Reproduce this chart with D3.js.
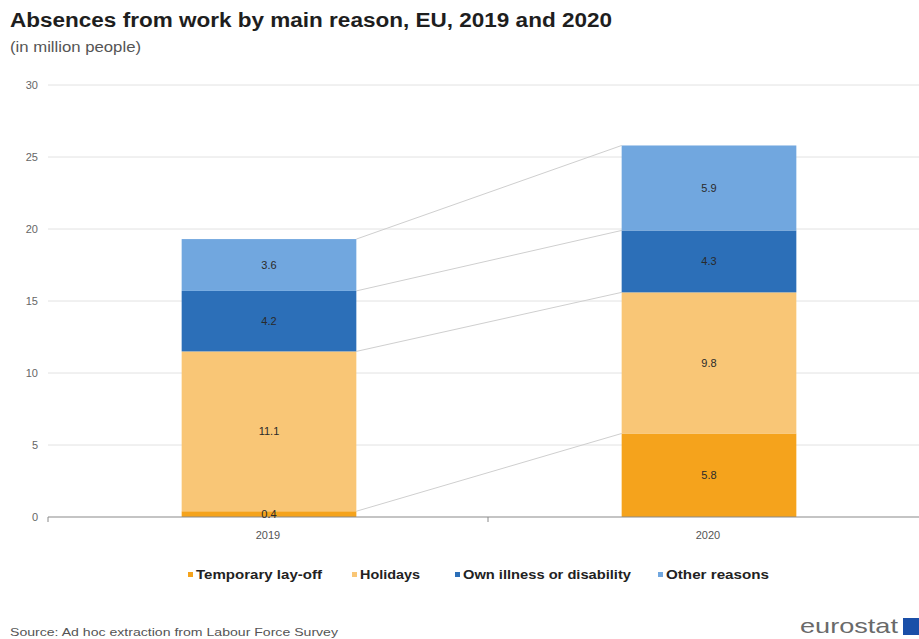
<!DOCTYPE html>
<html>
<head>
<meta charset="utf-8">
<script src="https://cdn.jsdelivr.net/npm/d3@7"></script>
<style>
  html, body { margin: 0; padding: 0; background: #fff; }
  svg { display: block; font-family: "Liberation Sans", Arial, sans-serif; }
</style>
</head>
<body>
<svg id="chart" width="919" height="639"></svg>
<script>
// Absences from work by main reason (million people)
const years = ["2019", "2020"];
const reasons = ["Temporary lay-off", "Holidays", "Own illness or disability", "Other reasons"];
const layoff = [0.4, 5.8];
const holidays = [11.1, 9.8];
const illness = [4.2, 4.3];
const other = [3.6, 5.9];
const yTicks = [0, 5, 10, 15, 20, 25, 30];
const colors = ["#f5a31c", "#f9c676", "#2c6fb8", "#71a7df"];

const seriesValues = [layoff, holidays, illness, other];
const rows = years.map((yr, i) => {
  const r = { year: yr };
  reasons.forEach((k, j) => { r[k] = seriesValues[j][i]; });
  return r;
});
const stacked = d3.stack().keys(reasons)(rows);

const svg = d3.select("#chart");
const W = 919, H = 639;
const plotLeft = 48, plotRight = 928, plotTop = 85, plotBottom = 517;

const x = d3.scaleBand().domain(years).range([plotLeft, plotRight]).paddingInner(0).paddingOuter(0);
const y = d3.scaleLinear().domain([0, 30]).range([plotBottom, plotTop]);
const barW = x.bandwidth() * 0.397;
const barX = d => x(d) + (x.bandwidth() - barW) / 2 + 1;

// wide text helper: stretches a string to a given run length
function wideText(sel, len) {
  return sel.attr("textLength", len).attr("lengthAdjust", "spacingAndGlyphs");
}

// title
wideText(svg.append("text").attr("x", 10).attr("y", 27)
  .attr("font-size", 20).attr("font-weight", "bold").attr("fill", "#1e1e1e")
  .text("Absences from work by main reason, EU, 2019 and 2020"), 602);
wideText(svg.append("text").attr("x", 10).attr("y", 52)
  .attr("font-size", 14).attr("fill", "#555")
  .text("(in million people)"), 131);

// gridlines
svg.append("g").selectAll("line").data(yTicks.filter(t => t > 0)).join("line")
  .attr("x1", plotLeft).attr("x2", W)
  .attr("y1", d => y(d)).attr("y2", d => y(d))
  .attr("stroke", "#e2e2e2").attr("stroke-width", 1);

// y axis labels
const yAxis = svg.append("g").attr("transform", `translate(${plotLeft},0)`)
  .call(d3.axisLeft(y).tickValues(yTicks).tickSize(0).tickPadding(10));
yAxis.select(".domain").remove();
yAxis.selectAll("text").attr("font-size", 11).attr("fill", "#666")
  .attr("font-family", "Liberation Sans, Arial, sans-serif");

// connectors between stacked tops
const conn = svg.append("g");
stacked.forEach(s => {
  conn.append("line")
    .attr("x1", barX(years[0]) + barW).attr("y1", y(s[0][1]))
    .attr("x2", barX(years[1])).attr("y2", y(s[1][1]))
    .attr("stroke", "#cfcfcf").attr("stroke-width", 1);
});

// bars
const layers = svg.append("g").selectAll("g").data(stacked).join("g")
  .attr("fill", (d, i) => colors[i]);
layers.selectAll("rect").data(d => d).join("rect")
  .attr("x", d => barX(d.data.year))
  .attr("y", d => y(d[1]))
  .attr("width", barW)
  .attr("height", d => y(d[0]) - y(d[1]));

// x axis
const xAxisG = svg.append("g").attr("transform", `translate(0,${plotBottom})`);
xAxisG.append("line").attr("x1", plotLeft).attr("x2", W).attr("y1", 0).attr("y2", 0)
  .attr("stroke", "#8a8a8a").attr("stroke-width", 1.2);
xAxisG.selectAll("line.tick").data([plotLeft, x(years[1]), plotRight]).join("line")
  .attr("class", "tick")
  .attr("x1", d => d).attr("x2", d => d).attr("y1", 0).attr("y2", 5)
  .attr("stroke", "#8a8a8a");
xAxisG.selectAll("text").data(years).join("text")
  .attr("x", d => x(d) + x.bandwidth() / 2).attr("y", 22)
  .attr("text-anchor", "middle").attr("font-size", 11).attr("fill", "#555")
  .text(d => d);

// value labels
const labels = svg.append("g");
stacked.forEach(s => {
  s.forEach(d => {
    labels.append("text")
      .attr("x", barX(d.data.year) + barW / 2)
      .attr("y", y((d[0] + d[1]) / 2))
      .attr("dy", "0.35em")
      .attr("text-anchor", "middle").attr("font-size", 11).attr("fill", "#2a2a2a")
      .text(d3.format(".1f")(d[1] - d[0]));
  });
});

// legend
const legendX = [188, 352, 455, 658];
const legendLen = [126, 60, 168, 103];
const lg = svg.append("g").attr("transform", "translate(0,575)");
reasons.forEach((r, i) => {
  lg.append("rect").attr("x", legendX[i]).attr("y", -3).attr("width", 5).attr("height", 5)
    .attr("fill", colors[i]);
  wideText(lg.append("text").attr("x", legendX[i] + 8).attr("y", 0).attr("dy", "0.35em")
    .attr("font-size", 12).attr("font-weight", "bold").attr("fill", "#222")
    .text(r), legendLen[i]);
});

// source
wideText(svg.append("text").attr("x", 10).attr("y", 636)
  .attr("font-size", 11).attr("fill", "#555")
  .text("Source: Ad hoc extraction from Labour Force Survey"), 328);

// eurostat wordmark
wideText(svg.append("text").attr("x", 800).attr("y", 633)
  .attr("font-size", 21).attr("fill", "#6a6a6a").text("eurostat"), 98);
svg.append("rect").attr("x", 903).attr("y", 618).attr("width", 16).attr("height", 17)
  .attr("fill", "#1a4fa8");
</script>
</body>
</html>
